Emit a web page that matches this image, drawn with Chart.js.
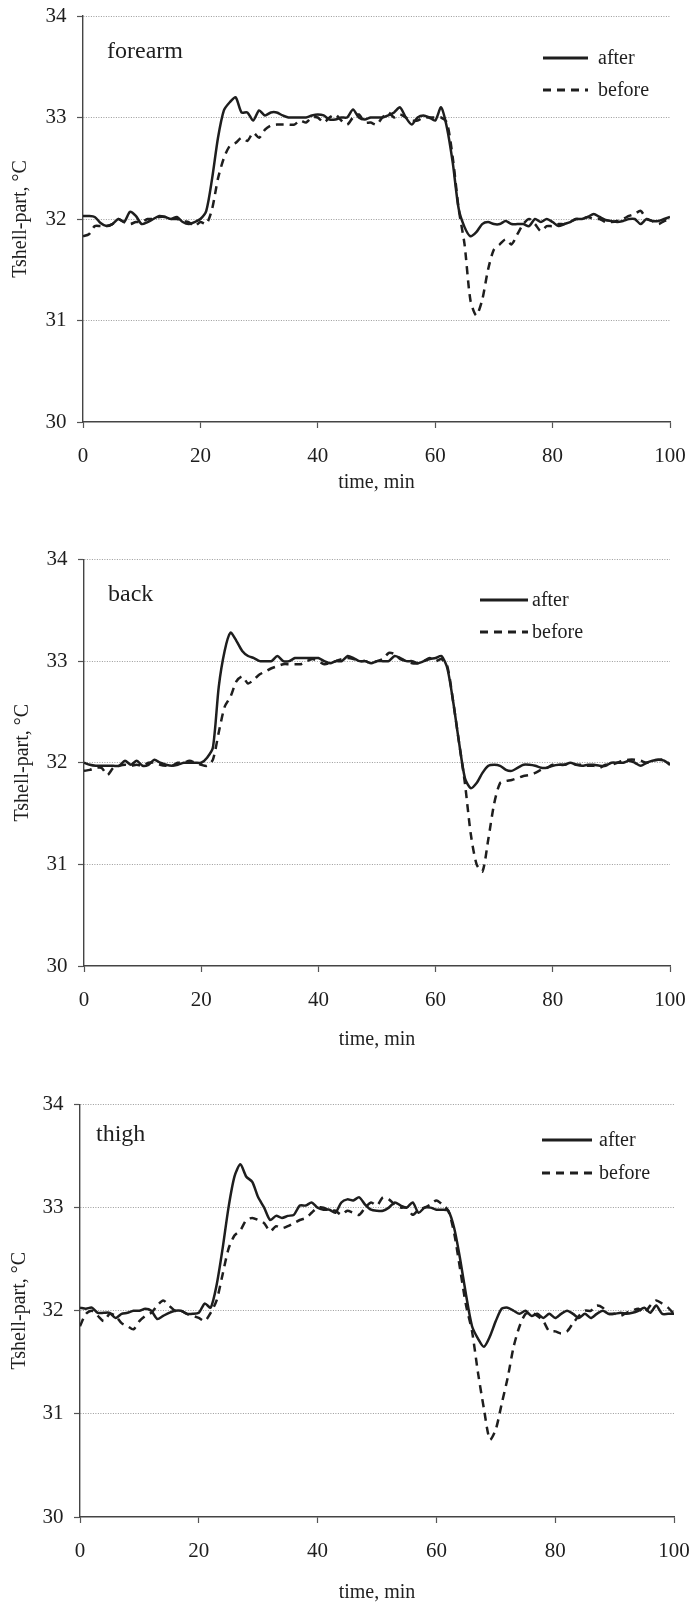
<!DOCTYPE html>
<html>
<head>
<meta charset="utf-8">
<script src="https://cdn.jsdelivr.net/npm/chart.js@4/dist/chart.umd.min.js"></script>
<style>
  html, body { margin: 0; padding: 0; background: #fff; }
  #page { position: relative; width: 690px; height: 1605px; overflow: hidden; }
  .panel { position: absolute; left: 0; }
</style>
</head>
<body>
<div id="page">
  <div class="panel" style="top:0px"><canvas id="forearm" width="690" height="500"></canvas></div>
  <div class="panel" style="top:530px"><canvas id="back" width="690" height="530"></canvas></div>
  <div class="panel" style="top:1075px"><canvas id="thigh" width="690" height="530"></canvas></div>
</div>
<script>
// time axis, minutes
const timeMin = [
  0, 1, 2, 3, 4, 5, 6, 7, 8, 9, 10, 11, 12, 13, 14, 15, 16, 17, 18, 19,
  20, 21, 22, 23, 24, 25, 26, 27, 28, 29, 30, 31, 32, 33, 34, 35, 36, 37, 38, 39,
  40, 41, 42, 43, 44, 45, 46, 47, 48, 49, 50, 51, 52, 53, 54, 55, 56, 57, 58, 59,
  60, 61, 62, 63, 64, 65, 66, 67, 68, 69, 70, 71, 72, 73, 74, 75, 76, 77, 78, 79,
  80, 81, 82, 83, 84, 85, 86, 87, 88, 89, 90, 91, 92, 93, 94, 95, 96, 97, 98, 99, 100
];
const xTicks = [0, 20, 40, 60, 80, 100];
const yTicks = [30, 31, 32, 33, 34];
const seriesNames = ["after", "before"];

// forearm
const forearmAfter = [
  32.03, 32.03, 32.02, 31.96, 31.93, 31.95, 32.00, 31.97, 32.07, 32.03,
  31.95, 31.97, 32.00, 32.03, 32.02, 32.00, 32.02, 31.97, 31.95, 31.97,
  32.00, 32.08, 32.40, 32.80, 33.07, 33.15, 33.20, 33.05, 33.05, 32.97,
  33.07, 33.02, 33.05, 33.05, 33.02, 33.00, 33.00, 33.00, 33.00, 33.02,
  33.03, 33.02, 32.98, 32.98, 33.00, 33.00, 33.08, 33.00, 32.98, 33.00,
  33.00, 33.00, 33.02, 33.05, 33.10, 33.00, 32.93, 33.00, 33.02, 33.00,
  32.97, 33.10, 32.90, 32.55, 32.10, 31.92, 31.83, 31.87, 31.95, 31.97,
  31.95, 31.95, 31.98, 31.95, 31.95, 31.95, 31.93, 32.00, 31.97, 32.00,
  31.97, 31.93, 31.95, 31.97, 32.00, 32.00, 32.02, 32.05, 32.02, 31.99,
  31.98, 31.97, 31.98, 32.00, 32.00, 31.95, 32.00, 31.98, 31.98, 32.00, 32.02
];
const forearmBefore = [
  31.83, 31.85, 31.93, 31.93, 31.93, 31.95, 32.00, 31.97, 31.95, 31.97,
  31.97, 32.00, 32.00, 32.02, 32.02, 32.00, 32.00, 31.98, 31.97, 31.93,
  31.97, 31.95, 32.10, 32.40, 32.60, 32.72, 32.75, 32.80, 32.77, 32.85,
  32.80, 32.88, 32.92, 32.93, 32.93, 32.93, 32.93, 32.97, 32.95, 33.00,
  33.00, 32.95, 33.00, 33.03, 32.97, 32.93, 33.00, 33.03, 32.95, 32.95,
  32.93, 33.00, 33.05, 33.00, 33.03, 33.00, 32.97, 32.97, 33.00, 33.00,
  33.00, 33.00, 32.95, 32.60, 32.10, 31.75, 31.20, 31.05, 31.20, 31.50,
  31.70, 31.75, 31.80, 31.75, 31.85, 31.95, 32.00, 31.95, 31.88, 31.93,
  31.93, 31.95, 31.95, 31.97, 32.00, 32.00, 32.02, 32.00, 32.00, 31.97,
  31.97, 31.98, 32.00, 32.03, 32.05, 32.08, 32.00, 31.98, 31.95, 31.98, 32.00
];

// back
const backAfter = [
  32.00, 31.98, 31.97, 31.97, 31.97, 31.97, 31.97, 32.02, 31.98, 32.02,
  31.97, 31.98, 32.03, 32.00, 31.98, 31.97, 31.98, 32.00, 32.00, 32.00,
  32.00, 32.05, 32.15, 32.75, 33.10, 33.28, 33.20, 33.10, 33.05, 33.03,
  33.00, 33.00, 33.00, 33.05, 33.00, 33.00, 33.03, 33.03, 33.03, 33.03,
  33.03, 33.00, 32.98, 33.00, 33.00, 33.05, 33.03, 33.00, 33.00, 32.98,
  33.00, 33.00, 33.00, 33.05, 33.03, 33.00, 33.00, 32.98, 33.00, 33.02,
  33.03, 33.05, 32.93, 32.60, 32.20, 31.85, 31.75, 31.80, 31.90, 31.97,
  31.98, 31.97, 31.93, 31.92, 31.95, 31.98, 31.98, 31.97, 31.95, 31.95,
  31.97, 31.98, 31.98, 32.00, 31.98, 31.97, 31.98, 31.98, 31.97, 31.97,
  32.00, 32.00, 32.00, 32.02, 32.00, 31.97, 32.00, 32.02, 32.03, 32.02, 31.98
];
const backBefore = [
  31.92, 31.93, 31.95, 31.95, 31.88, 31.95, 31.97, 31.98, 31.97, 31.98,
  31.97, 32.00, 32.00, 31.98, 31.97, 31.97, 32.00, 32.00, 32.02, 32.00,
  31.98, 31.97, 32.03, 32.30, 32.55, 32.65, 32.80, 32.85, 32.78, 32.82,
  32.87, 32.90, 32.93, 32.95, 32.97, 32.97, 32.97, 32.97, 33.00, 33.02,
  33.00, 32.97, 32.98, 33.00, 33.02, 33.03, 33.02, 33.00, 33.00, 32.98,
  33.00, 33.02, 33.08, 33.07, 33.02, 33.00, 32.98, 32.98, 33.00, 33.03,
  33.00, 33.02, 32.95, 32.60, 32.20, 31.80, 31.30, 31.00, 30.93, 31.25,
  31.60, 31.80, 31.82, 31.83, 31.85, 31.87, 31.88, 31.90, 31.93, 31.95,
  31.98, 31.98, 31.98, 32.00, 31.98, 31.98, 31.97, 31.97, 31.95, 31.98,
  31.98, 32.00, 32.02, 32.03, 32.03, 32.02, 32.00, 32.02, 32.03, 32.03, 31.98
];

// thigh
const thighAfter = [
  32.03, 32.02, 32.03, 31.98, 31.98, 31.98, 31.93, 31.97, 31.98, 32.00,
  32.00, 32.02, 32.00, 31.92, 31.95, 31.98, 32.00, 32.00, 31.97, 31.97,
  31.98, 32.07, 32.03, 32.25, 32.60, 33.00, 33.30, 33.42, 33.30, 33.25,
  33.10, 33.00, 32.88, 32.92, 32.90, 32.92, 32.93, 33.02, 33.02, 33.05,
  33.00, 32.98, 32.98, 32.95, 33.05, 33.08, 33.07, 33.10, 33.03, 32.98,
  32.97, 32.97, 33.00, 33.05, 33.02, 33.00, 33.05, 32.95, 33.00, 33.00,
  32.98, 32.98, 32.97, 32.80, 32.50, 32.15, 31.85, 31.73, 31.65, 31.75,
  31.90, 32.02, 32.03, 32.00, 31.97, 32.00, 31.95, 31.97, 31.93, 31.97,
  31.93, 31.97, 32.00, 31.97, 31.93, 31.97, 31.93, 31.97, 32.00, 31.97,
  31.97, 31.98, 31.97, 31.98, 32.00, 32.03, 31.98, 32.05, 31.97, 31.97, 31.97
];
const thighBefore = [
  31.85, 31.97, 32.00, 31.95, 31.90, 31.97, 31.95, 31.88, 31.85, 31.82,
  31.90, 31.95, 31.98, 32.05, 32.10, 32.05, 32.00, 32.00, 31.97, 31.95,
  31.93, 31.90, 31.98, 32.10, 32.35, 32.60, 32.73, 32.78, 32.88, 32.90,
  32.88, 32.85, 32.77, 32.82, 32.80, 32.82, 32.85, 32.88, 32.90, 32.95,
  33.00, 33.00, 32.97, 32.97, 32.93, 32.97, 32.95, 32.93, 33.00, 33.05,
  33.02, 33.10, 33.08, 33.03, 33.00, 33.00, 32.93, 32.98, 33.00, 33.03,
  33.07, 33.03, 32.97, 32.75, 32.40, 32.05, 31.80, 31.40, 31.05, 30.75,
  30.85, 31.10, 31.35, 31.65, 31.85, 31.97, 31.98, 31.95, 31.90, 31.80,
  31.80, 31.78, 31.80, 31.88, 31.95, 32.00, 32.00, 32.05, 32.03, 31.97,
  31.97, 31.95, 31.98, 32.00, 32.02, 31.98, 32.05, 32.10, 32.07, 32.03, 31.97
];

const FONT = "Liberation Serif";
const INK = "#1e1e1e";

// panel name + hand placed legend inside the plot
const panelLabels = {
  id: "panelLabels",
  afterDatasetsDraw(chart, args, opts) {
    const ctx = chart.ctx;
    ctx.save();
    ctx.fillStyle = INK;
    ctx.textBaseline = "middle";
    ctx.textAlign = "left";
    ctx.font = "24px '" + FONT + "'";
    ctx.fillText(opts.name, opts.nameX, opts.nameY);
    ctx.font = "20px '" + FONT + "'";
    chart.data.datasets.forEach((ds, i) => {
      const y = opts.legendY + i * opts.legendGap;
      ctx.strokeStyle = ds.borderColor;
      ctx.lineWidth = 2.8;
      ctx.setLineDash(ds.borderDash || []);
      ctx.beginPath();
      ctx.moveTo(opts.lineX0, y);
      ctx.lineTo(opts.lineX1, y);
      ctx.stroke();
      ctx.fillText(ds.label, opts.textX, y + 1);
    });
    ctx.restore();
  }
};

function makeChart(id, name, afterVals, beforeVals, L) {
  const pts = arr => timeMin.map((t, i) => ({ x: t, y: arr[i] }));
  new Chart(document.getElementById(id), {
    type: "line",
    data: {
      datasets: [
        {
          label: seriesNames[0],
          data: pts(afterVals),
          borderColor: INK,
          borderWidth: 2.5,
          pointRadius: 0,
          tension: 0.25,
          fill: false
        },
        {
          label: seriesNames[1],
          data: pts(beforeVals),
          borderColor: INK,
          borderWidth: 2.5,
          borderDash: [8, 6],
          pointRadius: 0,
          tension: 0.25,
          fill: false
        }
      ]
    },
    options: {
      responsive: false,
      animation: false,
      devicePixelRatio: 1,
      layout: { padding: { top: L.top, right: L.right, left: 0, bottom: 0 } },
      scales: {
        x: {
          type: "linear",
          min: 0,
          max: 100,
          afterBuildTicks: s => { s.ticks = xTicks.map(v => ({ value: v })); },
          afterFit: s => { s.height = L.xh; s.paddingLeft = 0; s.paddingRight = 0; },
          ticks: { font: { family: FONT, size: 21 }, color: INK, padding: 16, maxRotation: 0 },
          grid: { drawOnChartArea: false, tickLength: 6, tickColor: "#555", tickWidth: 1.2 },
          border: { color: "#444", width: 1.4 },
          title: {
            display: true,
            text: "time, min",
            font: { family: FONT, size: 20, lineHeight: 1.2 },
            color: INK,
            padding: { top: 0, bottom: L.xtPad }
          }
        },
        y: {
          type: "linear",
          min: 30,
          max: 34,
          afterBuildTicks: s => { s.ticks = yTicks.map(v => ({ value: v })); },
          afterFit: s => { s.width = L.left; s.paddingTop = 0; s.paddingBottom = 0; },
          ticks: { font: { family: FONT, size: 21 }, color: INK, padding: 10.5 },
          grid: {
            drawOnChartArea: true,
            color: c => (c.tick && c.tick.value === 30 ? "rgba(0,0,0,0)" : "#9a9a9a"),
            lineWidth: 1,
            tickLength: 6,
            tickColor: "#555",
            tickWidth: 1.2
          },
          border: { color: "#444", width: 1.4, dash: [1, 1.5] },
          title: {
            display: true,
            text: "Tshell-part, °C",
            font: { family: FONT, size: 20, lineHeight: 1.2 },
            color: INK,
            padding: { top: L.ytPad, bottom: 0 }
          }
        }
      },
      plugins: {
        legend: { display: false },
        tooltip: { enabled: false },
        panelLabels: Object.assign({ name: name }, L.labels)
      }
    },
    plugins: [panelLabels]
  });
}

makeChart("forearm", "forearm", forearmAfter, forearmBefore, {
  top: 16, right: 20, left: 83, xh: 78, xtPad: 5, ytPad: 9,
  labels: { nameX: 107, nameY: 52, lineX0: 543, lineX1: 588, textX: 598, legendY: 58, legendGap: 32 }
});
makeChart("back", "back", backAfter, backBefore, {
  top: 29.5, right: 20, left: 84, xh: 94, xtPad: 8, ytPad: 11,
  labels: { nameX: 108, nameY: 65, lineX0: 480, lineX1: 528, textX: 532, legendY: 70, legendGap: 32 }
});
makeChart("thigh", "thigh", thighAfter, thighBefore, {
  top: 29.5, right: 16, left: 80, xh: 88, xtPad: 0, ytPad: 8,
  labels: { nameX: 96, nameY: 60, lineX0: 542, lineX1: 592, textX: 599, legendY: 65, legendGap: 33 }
});
</script>
</body>
</html>
